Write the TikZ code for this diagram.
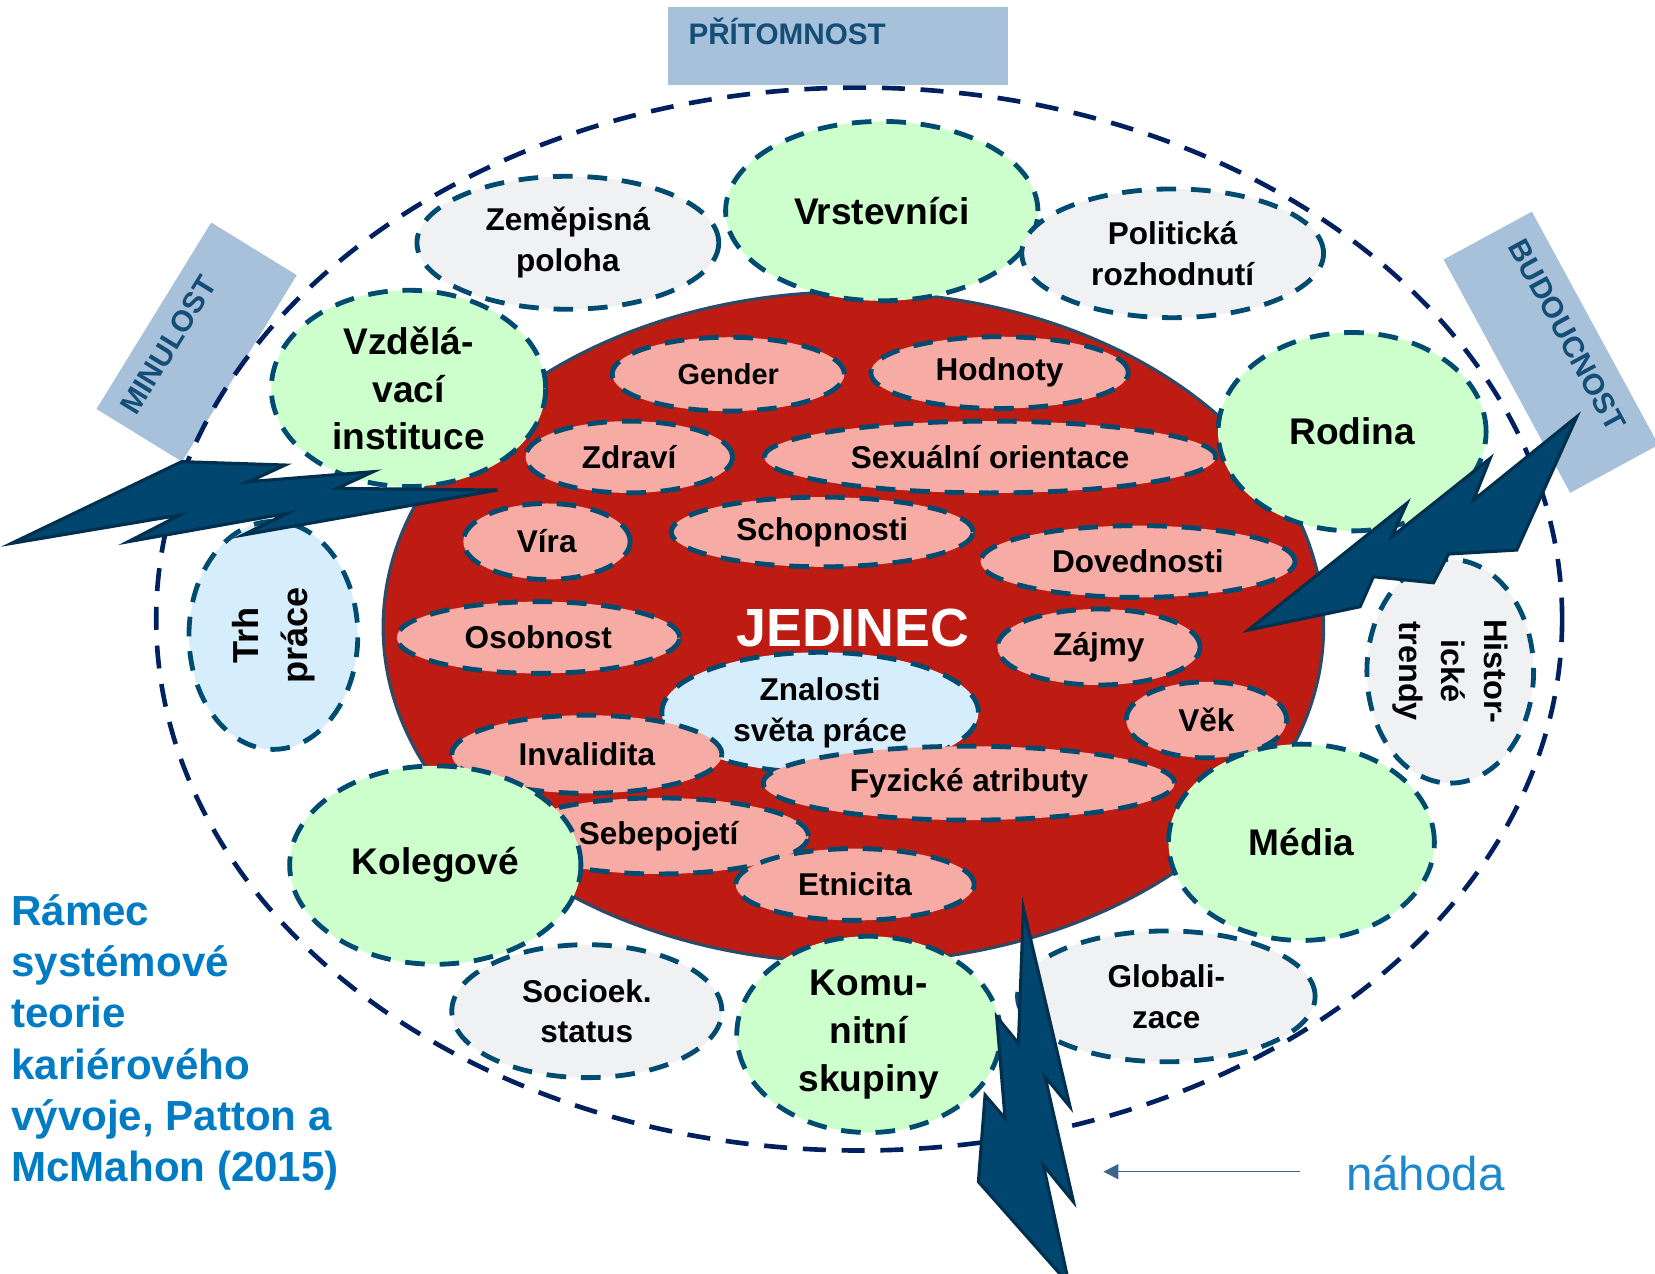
\documentclass[tikz,border=0pt]{standalone}
\usepackage{fontspec}
\setmainfont{Liberation Sans}
\usetikzlibrary{shapes.geometric,arrows.meta}
\definecolor{ringnavy}{RGB}{0,32,96}
\definecolor{edgeblue}{RGB}{0,75,112}
\definecolor{jedinecred}{RGB}{190,27,18}
\definecolor{redrim}{RGB}{46,74,100}
\definecolor{pinkfill}{RGB}{246,172,164}
\definecolor{greenfill}{RGB}{204,255,204}
\definecolor{grayfill}{RGB}{240,241,243}
\definecolor{bluefill}{RGB}{214,238,252}
\definecolor{timefill}{RGB}{168,193,219}
\definecolor{timetext}{RGB}{20,78,118}
\definecolor{boltfill}{RGB}{0,70,110}
\definecolor{boltrim}{RGB}{0,48,78}
\definecolor{titleblue}{RGB}{0,124,196}
\definecolor{chanceblue}{RGB}{30,136,204}
\definecolor{arrowblue}{RGB}{60,100,140}

\tikzset{
  factor/.style={ellipse, draw=edgeblue, line width=2.6pt, dash pattern=on 10.6pt off 8pt,
    inner sep=0pt, align=center, font=\bfseries\fontsize{17}{22}\selectfont},
  pinkf/.style={factor, fill=pinkfill},
  greenf/.style={factor, fill=greenfill, font=\bfseries\fontsize{20}{25.8}\selectfont},
  grayf/.style={factor, fill=grayfill},
  bluef/.style={factor, fill=bluefill},
  timebox/.style={fill=timefill, text=timetext, inner ysep=0.2cm, text height=0.52cm,
    align=left, font=\bfseries\fontsize{16}{19}\selectfont},
  ring/.style={draw=ringnavy, line width=2.5pt, dash pattern=on 12.4pt off 8.5pt},
  bolt/.style={fill=boltfill, draw=boltrim, line width=1.7pt, line join=miter},
  chancearrow/.style={draw=arrowblue, line width=0.8pt, -{Triangle[length=8pt,width=8pt]}}
}

\begin{document}
\begin{tikzpicture}[x=0.02cm,y=-0.02cm]
\clip (0,0) rectangle (1568,1207);

% time boxes
\node[timebox, inner xsep=0.38cm, text width=5.68cm, text depth=0.564cm] (pritomnost) at (794.3,43.4) {PŘÍTOMNOST};
\node[timebox, rotate=58.4, inner xsep=0.28cm, text width=3.59cm, text depth=0.984cm] (minulost) at (186.3,324.1) {MINULOST};
\node[timebox, rotate=-61.5, inner xsep=0.36cm, text width=4.31cm, text depth=0.984cm] (budoucnost) at (1469.5,333.7) {BUDOUCNOST};

% outer ring and the individual
\draw[ring] (814,586.5) ellipse [x radius=666, y radius=503.5];
\draw[draw=redrim, line width=1.7pt, fill=jedinecred] (808.5,594.2) ellipse [x radius=445.5, y radius=317.8];
\node[inner sep=0pt, text=white, font=\bfseries\fontsize{29}{34}\selectfont] (jedinec) at (808,595) {JEDINEC};

% outer factors, back row
\node[grayf, minimum width=5.72cm, minimum height=2.52cm] (zemepisna) at (538,230) {Zeměpisná\\poloha};
\node[greenf, minimum width=5.2cm, minimum height=3.72cm] (vzdelavaci) at (387,368) {Vzdělá-\\vací\\instituce};
\node[greenf, minimum width=5.92cm, minimum height=3.4cm] (vrstevnici) at (835.4,200) {Vrstevníci};
\node[grayf, minimum width=5.72cm, minimum height=2.44cm] (politicka) at (1111,240) {Politická\\rozhodnutí};
\node[bluef, rotate=90, minimum width=4.32cm, minimum height=3.2cm, font=\bfseries\fontsize{19.5}{26.5}\selectfont] (trh) at (259,602) {Trh\\práce};
\node[grayf, rotate=-90, minimum width=4.24cm, minimum height=3.16cm, font=\bfseries\fontsize{17.5}{22.8}\selectfont] (historicke) at (1374,636) {Histor-\\ické\\trendy};

% inner factors
\node[pinkf, minimum width=4.4cm, minimum height=1.4cm, font=\bfseries\fontsize{15.6}{20}\selectfont] (gender) at (690,354.5) {Gender};
\node[pinkf, minimum width=4.88cm, minimum height=1.36cm] (hodnoty) at (947,353) {Hodnoty};
\node[pinkf, minimum width=3.92cm, minimum height=1.36cm] (zdravi) at (596,433) {Zdraví};
\node[pinkf, minimum width=8.56cm, minimum height=1.36cm] (sexualni) at (938,433) {Sexuální orientace};
\node[pinkf, minimum width=3.16cm, minimum height=1.44cm] (vira) at (518,513) {Víra};
\node[pinkf, minimum width=5.72cm, minimum height=1.32cm] (schopnosti) at (779,504) {Schopnosti};
\node[pinkf, minimum width=5.96cm, minimum height=1.36cm] (dovednosti) at (1078,532) {Dovednosti};
\node[pinkf, minimum width=5.36cm, minimum height=1.36cm] (osobnost) at (510,604) {Osobnost};
\node[pinkf, minimum width=3.84cm, minimum height=1.44cm] (zajmy) at (1041,613) {Zájmy};
\node[bluef, minimum width=6cm, minimum height=2.28cm] (znalosti) at (777,675) {Znalosti\\světa práce};
\node[pinkf, minimum width=3.04cm, minimum height=1.44cm] (vek) at (1143,682) {Věk};
\node[pinkf, minimum width=5.12cm, minimum height=1.48cm] (invalidita) at (556,714.6) {Invalidita};
\node[pinkf, minimum width=7.8cm, minimum height=1.4cm] (fyzicke) at (918,742) {Fyzické atributy};
\node[pinkf, minimum width=5.68cm, minimum height=1.44cm] (sebepojeti) at (624,792) {Sebepojetí};
\node[pinkf, minimum width=4.52cm, minimum height=1.36cm] (etnicita) at (810,838) {Etnicita};

% outer factors, front row
\node[greenf, minimum width=5.08cm, minimum height=3.76cm] (rodina) at (1281,409) {Rodina};
\node[greenf, minimum width=5.04cm, minimum height=3.72cm] (media) at (1233,798) {Média};
\node[greenf, minimum width=5.52cm, minimum height=3.76cm] (kolegove) at (412.4,819.6) {Kolegové};
\node[grayf, minimum width=5.12cm, minimum height=2.52cm] (socioek) at (556,958) {Socioek.\\status};
\node[grayf, minimum width=5.64cm, minimum height=2.48cm] (globalizace) at (1105,944) {Globali-\\zace};
\node[greenf, minimum width=5cm, minimum height=3.72cm] (komunitni) at (823,980) {Komu-\\nitní\\skupiny};

% chance
\draw[bolt] (10.9,514.8) -- (172.2,437.4) -- (270.1,440.6) -- (235.7,456.4) -- (353.5,446.9) -- (319.1,462.7)
  -- (471.4,464.3) -- (230.2,506.9) -- (271.9,486.4) -- (121.5,513.2) -- (170.4,488) -- cycle;
\draw[bolt] (1182.8,596.9) -- (1332.8,476.9) -- (1318.6,508.5) -- (1411.8,434.3) -- (1396,473.8) -- (1493.9,394.8)
  -- (1437,521.1) -- (1372.3,524.9) -- (1358.1,552.1) -- (1301.2,546.4) -- (1288.6,574.8) -- cycle;
\draw[bolt] (969.6,860.7) -- (1013.8,1048.6) -- (990.1,1020.1) -- (1017,1138.6) -- (988.5,1103.8) -- (1012.7,1216.5)
  -- (927,1119.6) -- (933.3,1037.5) -- (952.2,1059.6) -- (944.3,963.3) -- (964.9,988.5) -- cycle;

\node[anchor=west, inner sep=0pt, text=chanceblue, font=\fontsize{25.6}{30}\selectfont] (nahoda) at (1275,1112) {náhoda};
\coordinate (strike) at (1045.4,1110.1);
\draw[chancearrow, shorten <=0.86cm] (nahoda.west |- strike) -- (strike);

\node[anchor=north west, inner sep=0pt, align=left, text=titleblue, font=\bfseries\fontsize{22.7}{27.65}\selectfont] (caption) at (10.4,847)
  {Rámec\\systémové\\teorie\\kariérového\\vývoje, Patton a\\McMahon (2015)};
\end{tikzpicture}
\end{document}
